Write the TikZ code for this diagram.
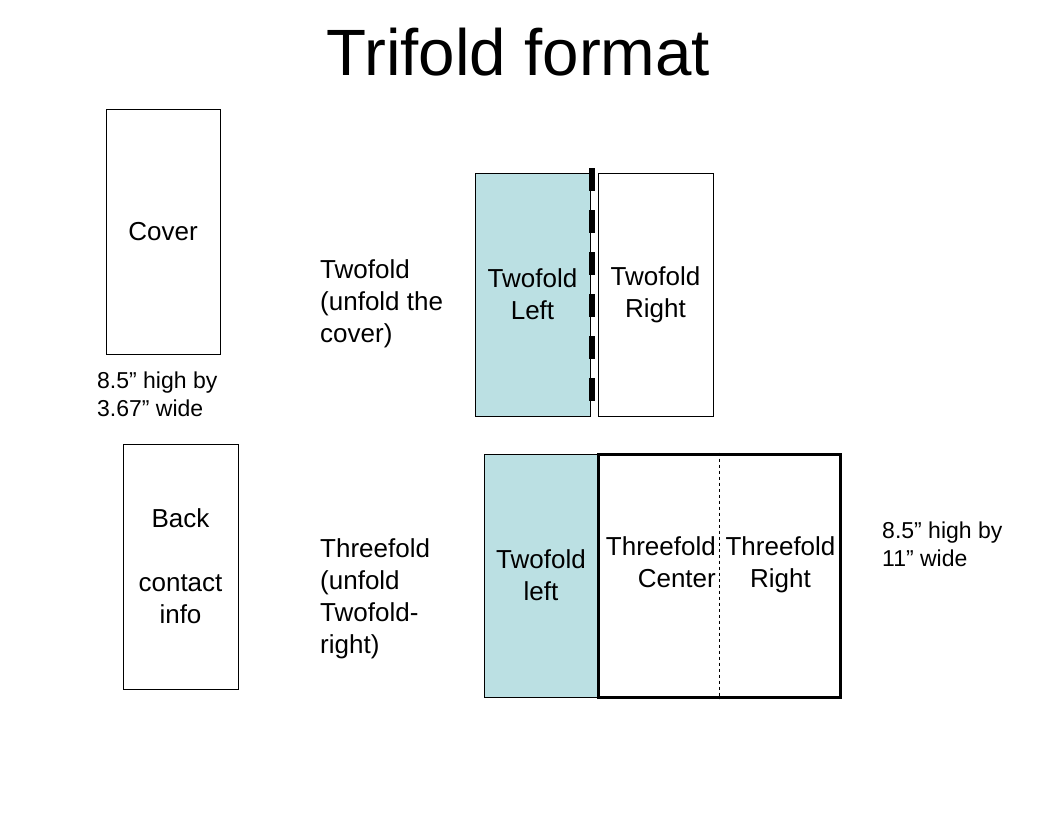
\documentclass[tikz,border=0pt]{standalone}
\usepackage{fontspec}
\setmainfont{Liberation Sans}
\definecolor{foldblue}{RGB}{187,224,227}

\begin{document}
\begin{tikzpicture}[x=1pt, y=-1pt,
		panel/.style={draw=black, line width=0.9pt, inner sep=0pt, align=center, font=\fontsize{26}{32}\selectfont},
		bodytext/.style={inner sep=0pt, font=\fontsize{26}{32}\selectfont},
		smalltext/.style={inner sep=0pt, align=left, font=\fontsize{23}{28}\selectfont},
		titletext/.style={inner sep=0pt, font=\fontsize{65.5}{78}\selectfont}]
	\useasboundingbox (0,0) rectangle (1056,816);
	
	%Titel
	\node[titletext, anchor=base] (title) at (518.5,75) {Trifold format};
	
	%Einzelseiten
	\node[panel, minimum width=114pt, minimum height=245pt] (cover) at (163,231.5) {Cover};
	\node[smalltext, anchor=north west] (coversize) at (97,371.5) {8.5” high by\\3.67” wide};
	\node[panel, minimum width=115pt, minimum height=245pt] (back) at (180.5,566.5) {Back\\[32pt]contact\\info};
	
	%Twofold
	\node[bodytext, anchor=north west, align=left] (twolabel) at (320,259) {Twofold\\(unfold the\\cover)};
	\node[panel, fill=foldblue, minimum width=115pt, minimum height=243pt] (twoleft) at (532.5,294.5) {Twofold\\Left};
	\node[panel, minimum width=115pt, minimum height=243pt] (tworight) at (655.5,294.5) {Twofold\\Right};
	\coordinate (foldtop) at (592,168);
	\coordinate (foldbot) at (592,417);
	\draw[line width=6.5pt, dash pattern=on 23pt off 19pt] (foldtop) -- (foldbot);
	
	%Threefold
	\node[bodytext, anchor=north west, align=left] (threelabel) at (320,538) {Threefold\\(unfold\\Twofold-\\right)};
	\node[panel, fill=foldblue, minimum width=114pt, minimum height=243pt] (twoleftb) at (541,575.5) {Twofold\\left};
	\node[panel, line width=3pt, minimum width=242pt, minimum height=243pt] (threefold) at (719,575.5) {};
	\draw[dashed, line width=0.9pt] (threefold.north) -- (threefold.south);
	\node[bodytext, anchor=north east, align=right] (threecenter) at (716,536) {Threefold\\Center};
	\node[bodytext, anchor=north, align=center] (threeright) at (780.5,536) {Threefold\\Right};
	\node[smalltext, anchor=north west] (spreadsize) at (882,521.5) {8.5” high by\\11” wide};
\end{tikzpicture}
\end{document}
